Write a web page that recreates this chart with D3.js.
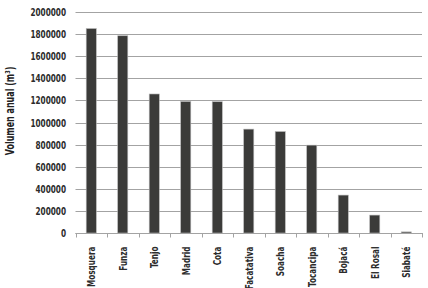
<!DOCTYPE html>
<html><head><meta charset="utf-8">
<script src="https://cdn.jsdelivr.net/npm/d3@7"></script>
<style>body{margin:0;background:#fff}svg{display:block}</style>
</head><body><svg id="c" width="428" height="288"></svg>
<script>
const categories = ["Mosquera","Funza","Tenjo","Madrid","Cota","Facatativa","Soacha","Tocancipa","Bojacá","El Rosal","Siabaté"];
const values = [1850000,1785000,1258000,1190000,1188000,940000,918000,795000,343000,162000,10000];
const yTicks = [0,200000,400000,600000,800000,1000000,1200000,1400000,1600000,1800000,2000000];
const yTitle = "Volumen anual (m³)";

const svg = d3.select("#c");
const font = "'DejaVu Sans Condensed','DejaVu Sans',sans-serif";
const sx = 0.74;
const m = {l:75.5, r:422, t:12, b:233};
const x = d3.scaleBand().domain(categories).range([m.l, m.r]).paddingInner(0.68).paddingOuter(0.34);
const y = d3.scaleLinear().domain([0,2000000]).range([m.b, m.t]);

// gridlines
svg.append("g").selectAll("line").data(yTicks).join("line")
  .attr("x1", m.l).attr("x2", m.r)
  .attr("y1", d=>Math.round(y(d))+0.5).attr("y2", d=>Math.round(y(d))+0.5)
  .attr("stroke", "#a3a3a3").attr("stroke-width",1);

// y axis labels
const ya = svg.append("g").attr("transform",`translate(${m.l},0)`)
  .call(d3.axisLeft(y).tickValues(yTicks).tickSize(0).tickPadding(9).tickFormat(d3.format("d")));
ya.select(".domain").remove();
ya.selectAll("text").attr("font-family",font).attr("font-weight","bold").attr("font-size",11).attr("fill","#2b2b2b")
  .attr("x", -9.5/sx).attr("transform",`scale(${sx},1)`);

// bars
svg.append("g").selectAll("rect").data(values).join("rect")
  .attr("x",(d,i)=>x(categories[i])).attr("width",x.bandwidth())
  .attr("y",d=>y(d)).attr("height",d=>y(0)-y(d))
  .attr("fill","#3b3b39").attr("stroke","#b5b5b5").attr("stroke-width",0.6);

// x axis
const step = x.step();
const xa = svg.append("g").attr("transform",`translate(0,${Math.round(m.b)+0.5})`)
  .call(d3.axisBottom(x).tickSize(0).tickPadding(0));
xa.select(".domain").attr("stroke","#a3a3a3").attr("d",`M${m.l},0H${m.r}`);
xa.selectAll(".tick line").remove();
xa.selectAll(".tick text")
  .attr("font-family",font).attr("font-weight","bold").attr("font-size",11).attr("fill","#2b2b2b")
  .attr("text-anchor","end").attr("dy","0.36em").attr("dx",0)
  .attr("transform",`translate(0,13) rotate(-90) scale(${sx},1)`).attr("y",0).attr("x",0);
// boundary ticks
const bounds = d3.range(categories.length+1).map(i=>m.l + i*step);
svg.append("g").selectAll("line").data(bounds).join("line")
  .attr("x1",d=>Math.round(d)+0.5).attr("x2",d=>Math.round(d)+0.5)
  .attr("y1",m.b).attr("y2",m.b+4.5).attr("stroke","#a3a3a3");

// y title
svg.append("text").attr("transform",`translate(14,111) rotate(-90) scale(${sx},1)`)
  .attr("text-anchor","middle").attr("font-family",font).attr("font-weight","bold")
  .attr("font-size",12).attr("fill","#222").text(yTitle);
</script></body></html>
